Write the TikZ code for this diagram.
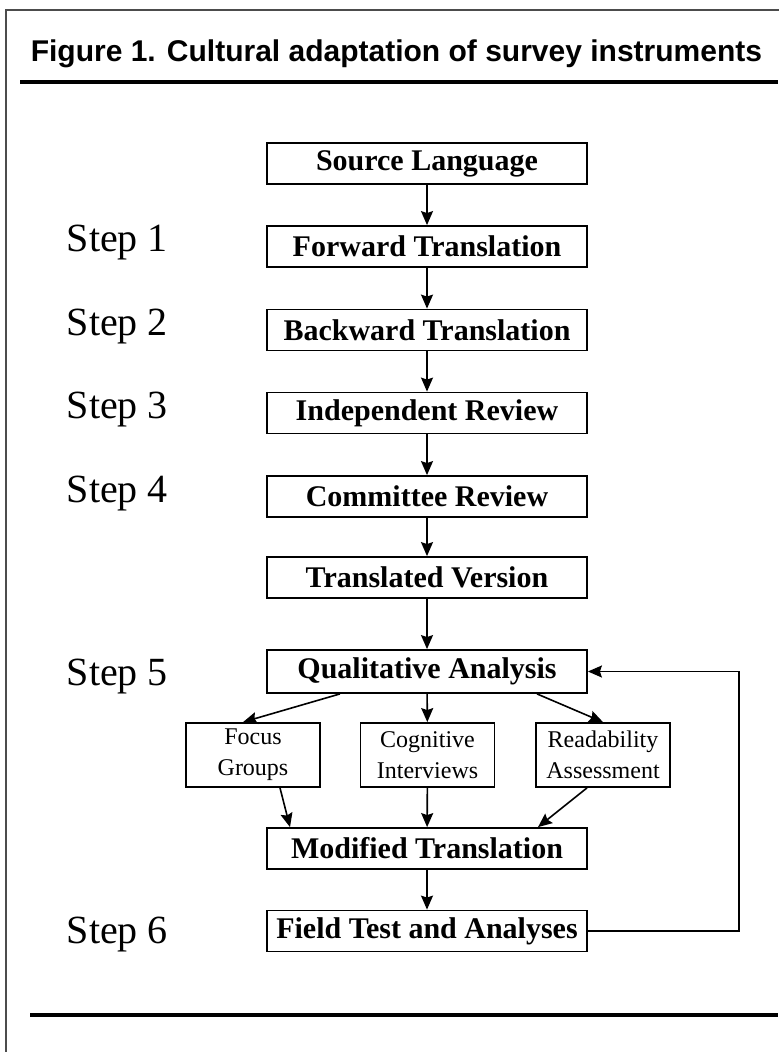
\documentclass[tikz,border=0pt]{standalone}
\usepackage{fontspec}
\setmainfont{Liberation Serif}
\setsansfont{Liberation Sans}
\usetikzlibrary{arrows.meta}

\begin{document}
\begin{tikzpicture}[x=0.5pt,y=-0.5pt,>={Stealth[length=7pt,width=6pt,inset=1pt]},line width=0.8pt,
  stage/.style={draw,line width=0.9pt,minimum width=160pt,minimum height=20.5pt,
    inner sep=0pt,font=\fontsize{15}{18}\selectfont\bfseries},
  method/.style={draw,line width=0.9pt,minimum width=67pt,minimum height=32pt,
    inner sep=0pt,align=center,font=\fontsize{12}{15.5}\selectfont},
  steplabel/.style={anchor=base west,inner sep=0pt,font=\fontsize{20}{24}\selectfont}]
  \useasboundingbox (0,0) rectangle (779,1052);
  % frame, title and rules
  \draw[gray!60!black,line width=0.8pt] (6,1052)--(6,10)--(779,10);
  \node[anchor=base west,inner sep=0pt,font=\sffamily\bfseries\fontsize{15}{18}\selectfont]
    (title) at (30,62) {Figure 1. Cultural adaptation of survey instruments};
  \draw[line width=2pt] (20,82)--(778,82) (30,1015)--(778,1015);
  % main column
  \node[stage] (source) at (427,163.5) {Source Language};
  \node[stage] (forward) at (427,246.5) {Forward Translation};
  \node[stage] (backward) at (427,330) {Backward Translation};
  \node[stage] (independent) at (427,413) {Independent Review};
  \node[stage] (committee) at (427,496.5) {Committee Review};
  \node[stage] (translated) at (427,577.5) {Translated Version};
  \node[stage,minimum height=21.5pt] (qualitative) at (427,671.5) {Qualitative Analysis};
  \node[method] (focus) at (253,755) {Focus\\Groups};
  \node[method] (cognitive) at (427.5,755) {Cognitive\\Interviews};
  \node[method] (readability) at (603,755) {Readability\\Assessment};
  \node[stage] (modified) at (427,848.5) {Modified Translation};
  \node[stage] (field) at (427,931) {Field Test and Analyses};
  % step labels
  \node[steplabel] (s1) at (66,252) {Step 1};
  \node[steplabel] (s2) at (66,335.5) {Step 2};
  \node[steplabel] (s3) at (66,419) {Step 3};
  \node[steplabel] (s4) at (66,502) {Step 4};
  \node[steplabel] (s5) at (66,685) {Step 5};
  \node[steplabel] (s6) at (66,943) {Step 6};
  % connectors
  \foreach \a/\b in {source/forward,forward/backward,backward/independent,
    independent/committee,committee/translated,translated/qualitative,
    qualitative/cognitive,cognitive/modified,modified/field}
    \draw[->] (\a) -- (\b);
  \draw[->] ([xshift=-43.5pt]qualitative.south) -- ([xshift=-5pt]focus.north);
  \draw[->] ([xshift=55pt]qualitative.south) -- (readability.north);
  \draw[->] ([xshift=13.5pt]focus.south) -- ([xshift=-68.5pt]modified.north);
  \draw[->] ([xshift=-8pt]readability.south) -- ([xshift=55.5pt]modified.north);
  \draw[->] (field.east) -- ++(151,0) |- (qualitative.east);
\end{tikzpicture}
\end{document}
